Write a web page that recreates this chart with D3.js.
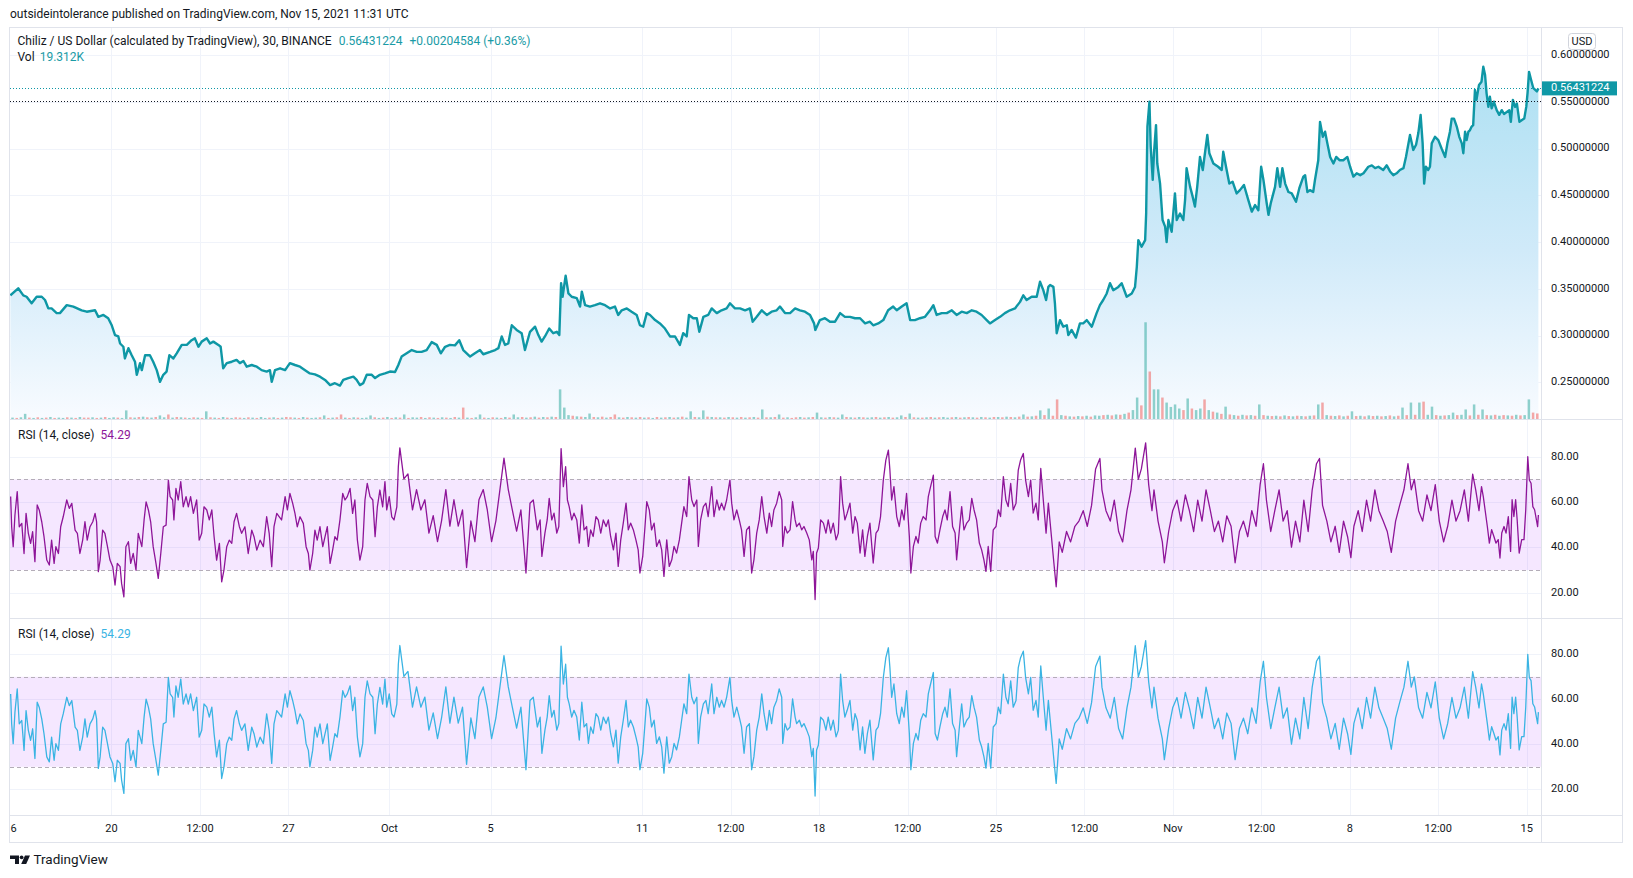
<!DOCTYPE html>
<html><head><meta charset="utf-8">
<script src="https://cdn.jsdelivr.net/npm/d3@7"></script>
<style>
html,body{margin:0;padding:0;background:#fff;}
svg{display:block;font-family:Roboto,"Noto Sans",sans-serif;}
</style></head><body>
<svg id="chart" width="1633" height="878"></svg>
<script>
// ---------- DATA ----------
// price: [days since 2021-09-16 00:00 UTC, close]
const priceData = [
[0,0.343],[0.31,0.3505],[0.51,0.343],[0.64,0.3415],[0.84,0.3345],[1.04,0.3415],[1.24,0.3415],[1.37,0.338],[1.50,0.329],[1.63,0.329],[1.83,0.324],[1.96,0.324],[2.23,0.3325],[2.49,0.331],[2.82,0.327],[3.02,0.3255],[3.35,0.327],[3.48,0.320],[3.68,0.322],[3.87,0.3185],[4.01,0.311],[4.14,0.3005],[4.27,0.299],[4.34,0.2915],[4.47,0.288],[4.53,0.2755],[4.67,0.2865],[4.80,0.279],[4.93,0.272],[5.00,0.258],[5.13,0.2705],[5.20,0.263],[5.33,0.279],[5.52,0.279],[5.65,0.272],[5.79,0.263],[5.92,0.2505],[6.05,0.258],[6.18,0.2615],[6.29,0.279],[6.45,0.2755],[6.58,0.281],[6.78,0.290],[6.98,0.290],[7.17,0.295],[7.30,0.297],[7.44,0.288],[7.57,0.2935],[7.77,0.297],[7.90,0.2915],[8.03,0.2935],[8.23,0.290],[8.32,0.288],[8.42,0.265],[8.56,0.2705],[8.76,0.272],[8.95,0.274],[9.08,0.2705],[9.22,0.2728],[9.35,0.2667],[9.55,0.2685],[9.75,0.2667],[9.94,0.263],[10.14,0.2615],[10.27,0.263],[10.34,0.2505],[10.47,0.263],[10.67,0.265],[10.87,0.263],[11.06,0.2705],[11.26,0.2685],[11.46,0.2667],[11.66,0.263],[11.85,0.2595],[12.05,0.2585],[12.25,0.256],[12.45,0.2525],[12.65,0.247],[12.84,0.249],[13.04,0.2465],[13.17,0.2525],[13.37,0.2545],[13.57,0.256],[13.70,0.2525],[13.83,0.247],[13.96,0.249],[14.10,0.258],[14.30,0.258],[14.43,0.2545],[14.62,0.258],[14.82,0.2595],[15.02,0.2615],[15.22,0.261],[15.35,0.2685],[15.48,0.2775],[15.68,0.281],[15.88,0.2845],[16.08,0.2825],[16.27,0.2825],[16.47,0.2845],[16.67,0.293],[16.87,0.290],[17.03,0.281],[17.20,0.288],[17.39,0.290],[17.59,0.2895],[17.76,0.295],[17.92,0.2845],[18.19,0.2775],[18.38,0.281],[18.58,0.2845],[18.71,0.280],[18.98,0.2825],[19.18,0.2845],[19.31,0.2865],[19.44,0.299],[19.57,0.290],[19.70,0.2915],[19.84,0.311],[20.03,0.306],[20.23,0.3025],[20.36,0.2845],[20.56,0.304],
[20.76,0.3095],[20.89,0.3005],[21.02,0.2935],[21.15,0.299],[21.32,0.3075],[21.48,0.3025],[21.62,0.304],[21.72,0.3005],[21.79,0.356],[21.85,0.3415],[21.97,0.364],[22.08,0.345],[22.21,0.3415],[22.41,0.340],[22.54,0.331],[22.61,0.347],[22.74,0.3325],[22.93,0.331],[23.13,0.3325],[23.33,0.3345],[23.53,0.3325],[23.73,0.329],[23.92,0.331],[24.05,0.322],[24.19,0.327],[24.39,0.329],[24.58,0.3255],[24.78,0.322],[24.91,0.311],[25.04,0.3095],[25.18,0.324],[25.31,0.322],[25.51,0.3165],[25.70,0.313],[25.90,0.3075],[26.10,0.299],[26.30,0.299],[26.49,0.290],[26.62,0.3025],[26.76,0.299],[26.85,0.322],[27.02,0.3185],[27.16,0.3185],[27.26,0.304],[27.42,0.320],[27.61,0.322],[27.75,0.329],[27.95,0.324],[28.14,0.327],[28.34,0.329],[28.47,0.3345],[28.67,0.329],[28.87,0.329],[29.07,0.327],[29.26,0.329],[29.37,0.3148],[29.53,0.320],[29.73,0.327],[29.93,0.322],[30.12,0.3255],[30.32,0.327],[30.45,0.331],[30.65,0.324],[30.85,0.324],[31.05,0.329],[31.24,0.327],[31.44,0.3255],[31.64,0.322],[31.80,0.313],[31.85,0.306],[32.03,0.3165],[32.23,0.3185],[32.43,0.3148],[32.63,0.3148],[32.83,0.324],[33.02,0.320],[33.22,0.320],[33.42,0.3185],[33.62,0.3185],[33.82,0.313],[34.01,0.3148],[34.14,0.311],[34.34,0.313],[34.54,0.3165],[34.73,0.327],[34.93,0.331],[35.07,0.327],[35.27,0.331],[35.46,0.3345],[35.60,0.3165],[35.79,0.3165],[35.99,0.3185],[36.19,0.320],[36.39,0.327],[36.52,0.3325],[36.65,0.322],[36.85,0.324],[37.05,0.324],[37.25,0.327],[37.44,0.322],[37.64,0.3255],[37.84,0.324],[38.04,0.327],[38.23,0.3255],[38.43,0.322],[38.63,0.3165],[38.76,0.313],[38.96,0.3165],[39.16,0.320],[39.35,0.324],[39.55,0.327],[39.75,0.329],[39.95,0.336],[40.08,0.343],[40.21,0.338],[40.41,0.3415],[40.61,0.3415],[40.74,0.3575],[40.87,0.3485],[40.98,0.338],[41.07,0.352],
[41.14,0.354],[41.27,0.352],[41.33,0.3345],[41.40,0.3025],[41.53,0.3165],[41.66,0.3095],[41.80,0.311],[41.86,0.3005],[41.99,0.306],[42.16,0.2978],[42.32,0.313],[42.45,0.313],[42.59,0.3165],[42.79,0.3095],[42.98,0.324],[43.11,0.3325],[43.24,0.338],[43.38,0.345],[43.51,0.356],[43.64,0.3485],[43.84,0.352],[43.97,0.356],[44.17,0.3415],[44.37,0.345],[44.50,0.352],[44.57,0.3735],[44.63,0.402],[44.76,0.395],[44.90,0.402],[44.94,0.4305],[44.99,0.5235],[45.07,0.550],[45.12,0.502],[45.20,0.4665],[45.25,0.495],[45.33,0.525],[45.38,0.484],[45.49,0.4625],[45.59,0.4235],[45.69,0.4165],[45.75,0.400],[45.82,0.4235],[45.95,0.411],[46.08,0.452],[46.15,0.4235],[46.28,0.4305],[46.41,0.4235],[46.48,0.445],[46.54,0.479],[46.68,0.459],[46.78,0.4485],[46.87,0.438],[46.96,0.459],[47.07,0.491],[47.18,0.477],[47.31,0.504],[47.36,0.5145],[47.44,0.495],[47.60,0.484],[47.79,0.4805],[47.93,0.477],[47.99,0.4965],[48.10,0.4805],[48.23,0.4625],[48.36,0.4645],[48.52,0.452],[48.65,0.4555],[48.81,0.461],[48.98,0.445],[49.12,0.4325],[49.25,0.4395],[49.38,0.434],[49.49,0.4805],[49.58,0.4665],[49.71,0.4415],[49.78,0.429],[49.87,0.4415],[50.04,0.459],[50.13,0.479],[50.24,0.459],[50.33,0.479],[50.44,0.4625],[50.57,0.4535],[50.70,0.452],[50.87,0.443],[51.00,0.4575],[51.16,0.470],[51.23,0.4715],[51.32,0.4535],[51.42,0.4555],[51.55,0.4535],[51.62,0.4665],[51.75,0.4875],[51.82,0.5285],[51.93,0.5125],[52.02,0.518],[52.11,0.5055],[52.22,0.491],[52.35,0.484],[52.46,0.491],[52.59,0.4875],[52.74,0.4875],[52.90,0.491],[53.01,0.4805],[53.14,0.470],[53.27,0.4735],[53.41,0.4715],[53.54,0.4735],[53.73,0.4805],[53.87,0.482],[54.00,0.479],[54.13,0.4805],[54.32,0.477],[54.46,0.482],[54.59,0.4755],[54.72,0.4715],[54.85,0.4735],[54.98,0.477],[55.12,0.479],[55.22,0.491],[55.38,0.5145],[55.51,0.4985],[55.62,0.504],[55.71,0.5165],[55.80,0.536],[55.88,0.5055],[55.94,0.4625],[56.01,0.4805],[56.10,0.477],[56.17,0.4805],[56.24,0.5055],[56.37,0.5125],[56.50,0.509],[56.63,0.500],[56.77,0.491],[56.86,0.5055],[56.96,0.518],[57.03,0.532],[57.12,0.532],[57.23,0.5235],[57.33,0.5125],[57.43,0.5055],[57.49,0.495],[57.56,0.518],[57.62,0.509],[57.69,0.518],[57.75,0.5195],[57.82,0.5235],[57.88,0.525],[57.95,0.5625],[58.01,0.552],[58.11,0.568],[58.21,0.5715],[58.28,0.5875],[58.35,0.5785],[58.41,0.559],[58.48,0.5445],[58.54,0.5555],[58.61,0.543],[58.70,0.550],[58.81,0.541],[58.91,0.536],[59.01,0.541],[59.10,0.537],[59.21,0.539],[59.31,0.541],[59.37,0.5285],[59.45,0.552],[59.54,0.5445],[59.61,0.548],[59.71,0.5285],[59.81,0.5305],[59.90,0.532],[59.98,0.5445],[60.03,0.559],[60.09,0.582],[60.17,0.5735],[60.26,0.5645],[60.40,0.561],[60.46,0.56431224]
];

// volume (K), one value per 4-hour block starting 2021-09-16 00:00 UTC; negative = down block (red)
const volumeData = [
6,-5,7,18,-6,5, -7,5,-6,8,-5,6, 5,-7,6,-5,8,-6, -6,7,-5,6,-8,5,
7,-6,5,29,-7,6, -8,9,-7,6,-8,13, 7,-16,6,-8,7,-6, 5,-7,6,-5,26,-7,
6,-5,8,-6,5,-7, -6,5,-7,6,-5,8, 5,-6,7,-5,6,-8, -7,6,-5,8,-6,5,
6,-7,13,-5,6,-7, -16,6,-5,7,-6,5, 6,13,-7,5,-6,8, -5,7,-6,16,-5,7,
6,-8,5,-7,6,-5, 7,-6,5,-8,6,-38, 6,-5,7,16,-6,5, -7,6,-5,8,-6,16,
7,-8,6,-7,9,-6, 8,-7,9,-8,96,38, 14,-12,10,-9,8,19, -8,7,-9,6,-8,-16,
7,-6,8,-7,6,-8, 6,-7,5,-8,6,-7, 8,-6,7,-9,6,26, -8,7,29,-9,8,-7,
7,-6,8,-7,6,-8, 6,-7,8,-6,32,-7, 7,-8,16,-6,7,-5, -7,8,-6,7,-8,22,
7,-6,8,-7,6,16, -8,7,-6,8,-7,6, 7,-8,6,-7,8,-6, 7,13,-8,19,-7,6,
-6,7,-8,6,-7,8, 6,-7,8,-6,7,-8, 7,-6,8,-7,6,-8, 8,-7,9,-8,7,-9,
16,-9,10,-12,29,-14, 35,-12,-64,14,-12,10, -9,11,-10,12,-9,13, 12,-14,15,-13,16,-15,
18,-22,30,70,-45,310, -153,96,96,-70,54,40, 48,35,-30,67,-35,30, 35,-64,30,-25,22,-18,
41,-16,14,-12,15,-13, 14,-12,48,-14,12,-11, 12,-10,13,-11,10,-12, 11,-10,12,-13,48,-54,
14,-12,11,-13,10,-12, 26,-11,12,-10,13,-11, 12,-10,11,-13,10,-12, 38,-14,54,-15,54,-57,
15,41,-14,12,-13,14, 22,-14,15,32,-13,48, -15,32,-14,13,-15,12, -14,13,-12,15,-13,14,
64,-22,-19.312
];

// RSI(14): [days since 2021-09-16 00:00 UTC, value]
const rsiData = [
[0.01,62.4],[0.05,49.1],[0.11,40.3],[0.18,54.3],[0.27,64.6],[0.35,49.1],[0.45,50.6],[0.54,37.3],[0.62,55.0],[0.71,46.2],[0.80,41.8],[0.88,46.9],[0.97,33.7],[1.06,58.7],[1.14,56.5],[1.24,51.3],[1.33,44.7],[1.44,34.4],[1.54,32.2],[1.63,43.2],[1.73,32.9],[1.80,40.3],[1.90,37.3],[1.99,49.1],[2.09,53.5],[2.23,60.9],[2.33,57.2],[2.43,59.4],[2.56,47.6],[2.65,46.2],[2.75,37.3],[2.86,43.2],[2.95,51.3],[3.04,43.2],[3.15,49.1],[3.26,51.3],[3.35,55.0],[3.41,51.3],[3.48,29.3],[3.55,34.4],[3.65,47.6],[3.74,46.2],[3.83,41.0],[3.94,34.4],[4.05,31.5],[4.14,23.4],[4.23,32.9],[4.34,31.5],[4.40,24.1],[4.49,18.2],[4.57,40.3],[4.67,42.5],[4.76,32.9],[4.86,37.3],[4.97,30.0],[5.06,46.2],[5.20,40.3],[5.29,52.1],[5.37,60.1],[5.46,56.5],[5.55,51.3],[5.65,40.3],[5.76,32.9],[5.85,26.3],[5.95,37.3],[6.05,49.1],[6.16,49.8],[6.25,69.7],[6.32,62.4],[6.42,60.9],[6.47,52.1],[6.55,66.0],[6.64,60.9],[6.74,69.0],[6.84,57.9],[6.95,62.4],[7.04,57.9],[7.13,62.4],[7.24,55.0],[7.37,60.9],[7.47,43.2],[7.57,46.2],[7.66,57.9],[7.77,56.5],[7.87,52.1],[7.97,56.5],[8.06,44.7],[8.16,34.4],[8.27,41.8],[8.36,24.8],[8.45,30.0],[8.56,40.3],[8.66,43.2],[8.76,41.8],[8.85,51.3],[8.95,55.0],[9.06,49.1],[9.15,46.2],[9.28,49.1],[9.41,37.3],[9.55,47.6],[9.64,44.7],[9.75,38.8],[9.88,43.2],[10.01,40.3],[10.14,53.5],[10.24,46.2],[10.34,31.5],[10.43,49.1],[10.54,55.0],[10.64,53.5],[10.73,52.1],[10.87,62.4],[10.96,56.5],[11.06,63.8],[11.17,59.4],[11.26,55.0],[11.35,49.1],[11.46,53.5],[11.59,50.6],[11.70,40.3],[11.79,37.3],[11.85,30.0],[11.96,37.3],[12.05,47.6],[12.14,43.2],[12.25,49.1],[12.36,40.3],[12.45,44.7],[12.54,49.1],[12.65,32.9],[12.75,38.8],[12.84,44.7],[12.93,43.2],[13.04,52.1],[13.15,63.8],[13.24,60.9],[13.33,62.4],[13.44,66.0],[13.54,55.0],[13.63,60.9],[13.73,43.2],[13.83,34.4],[13.94,40.3],[14.03,60.9],[14.12,68.2],[14.23,62.4],[14.34,60.9],[14.43,44.7],[14.52,57.9],[14.62,65.3],[14.73,57.9],[14.82,69.0],[14.89,56.5],[14.99,62.4],[15.09,53.5],[15.18,52.1],[15.29,57.9],[15.35,75.6],
[15.41,83.9],[15.57,70.2],[15.73,72.4],[15.91,56.5],[16.07,65.5],[16.24,56.5],[16.40,61],[16.56,46.3],[16.73,54],[16.90,42.5],[17.06,51.7],[17.23,65.5],[17.39,49.4],[17.55,61],[17.72,49.4],[17.89,56.5],[18.05,31.1],[18.22,51.7],[18.38,42.5],[18.54,61],[18.71,65.5],[18.87,56.5],[19.04,42.5],[19.21,51.7],[19.37,65.5],[19.53,79.4],[19.70,65.5],[19.86,56.5],[20.03,47.2],[20.20,56.5],[20.40,28.7],
[20.56,59.5],[20.69,60.9],[20.76,55.1],[20.85,47.7],[20.96,52.1],[21.03,36.0],[21.15,46.3],[21.24,52.1],[21.32,61.6],[21.42,52.1],[21.51,55.1],[21.62,46.3],[21.70,49.2],[21.79,83.6],[21.88,66.8],[21.97,75.6],[22.04,60.9],[22.11,58.0],[22.21,52.1],[22.30,55.1],[22.41,52.1],[22.51,41.9],[22.61,58.7],[22.70,47.7],[22.80,49.2],[22.87,40.4],[22.96,47.7],[23.06,44.8],[23.17,53.6],[23.26,52.1],[23.36,46.3],[23.46,52.1],[23.57,49.2],[23.66,52.1],[23.75,44.8],[23.86,38.9],[23.96,46.3],[24.05,31.6],[24.15,43.3],[24.25,50.7],[24.36,59.5],[24.45,47.7],[24.54,50.7],[24.65,47.7],[24.75,43.3],[24.84,38.9],[24.91,28.7],[25.02,36.0],[25.11,49.2],[25.18,60.2],[25.28,56.5],[25.37,47.7],[25.47,50.7],[25.57,40.4],[25.68,43.3],[25.77,38.9],[25.86,27.2],[25.97,43.3],[26.07,31.6],[26.17,34.5],[26.26,40.4],[26.36,37.5],[26.47,43.3],[26.56,50.7],[26.65,58.0],[26.76,53.6],[26.85,71.2],[26.96,60.9],[27.05,58.0],[27.16,60.9],[27.22,40.4],[27.31,52.1],[27.42,58.0],[27.52,59.5],[27.61,53.6],[27.75,66.8],[27.84,53.6],[27.95,60.9],[28.05,56.5],[28.14,59.5],[28.24,56.5],[28.34,60.9],[28.47,69.7],[28.54,59.5],[28.63,52.1],[28.74,56.5],[28.84,52.1],[28.93,47.7],[29.03,36.0],[29.13,47.7],[29.24,49.2],[29.33,28.7],[29.42,34.5],[29.53,46.3],[29.63,52.1],[29.73,62.4],[29.82,53.6],[29.93,46.3],[30.03,55.1],[30.12,49.2],[30.21,56.5],[30.32,59.5],[30.42,64.6],[30.52,60.9],[30.56,40.4],[30.65,49.2],[30.74,46.3],[30.85,47.7],[30.95,60.2],[31.05,52.1],[31.11,49.2],[31.22,50.7],[31.31,47.7],[31.40,49.2],[31.51,46.3],[31.61,43.3],[31.71,34.5],[31.77,38.2],[31.84,17.0],[31.90,37.5],[31.97,39.7],[32.06,52.1],[32.17,50.7],[32.27,46.3],[32.36,52.1],[32.46,46.3],[32.56,50.7],[32.67,43.3],[32.76,46.3],[32.85,71.2],[32.93,59.5],[33.02,52.1],[33.11,55.1],[33.22,59.5],[33.33,46.3],[33.42,53.6],[33.51,50.7],[33.62,37.5],[33.72,47.7],[33.81,36.0],[33.91,44.8],[34.01,50.7],[34.14,33.1],[34.25,46.3],[34.34,47.7],[34.43,53.6],[34.54,69.7],[34.64,78.5],[34.74,82.9],[34.80,74.1],[34.87,60.9],[34.96,66.8],[35.07,53.6],[35.17,49.2],[35.27,56.5],[35.36,52.1],[35.46,63.8],[35.57,44.8],[35.63,28.7],[35.73,40.4],[35.83,44.8],[35.92,41.9],[36.02,50.7],[36.12,53.6],[36.23,52.1],[36.32,62.4],[36.41,66.8],[36.52,71.9],[36.59,44.8],[36.68,41.9],[36.78,47.7],[36.89,53.6],[36.98,56.5],[37.07,52.1],[37.18,64.6],[37.28,49.2],[37.38,46.3],[37.44,34.5],[37.55,47.7],[37.64,58.0],[37.73,47.7],[37.84,50.7],[37.94,52.1],[38.04,61.6],[38.13,56.5],[38.23,52.1],[38.34,41.9],[38.43,38.9],[38.52,34.5],[38.60,29.4],[38.69,40.4],[38.79,29.4],[38.89,47.7],[39.00,49.2],[39.09,56.5],[39.18,53.6],[39.29,71.2],[39.39,60.9],[39.48,58.0],[39.58,68.2],[39.68,56.5],[39.79,59.5],[39.88,74.1],[39.97,78.5],[40.08,81.4],[40.17,69.7],[40.28,62.4],[40.37,69.7],[40.47,55.1],[40.58,59.5],[40.67,52.1],[40.77,74.8],[40.87,60.9],[40.98,46.3],[41.07,59.5],
[41.29,33],[41.38,22.6],[41.50,42.4],[41.62,37.8],[41.79,47],[41.95,42.4],[42.12,49.3],[42.28,51.6],[42.45,56.2],[42.61,49.3],[42.78,58.5],[42.94,74.6],[43.11,79.2],[43.19,65.4],[43.35,56.2],[43.52,51.6],[43.68,60.8],[43.85,47],[44.01,42.4],[44.18,56.2],[44.34,65.4],[44.51,83.8],[44.63,70],[44.75,74.6],[44.92,86.1],[45.04,67.7],[45.17,56.2],[45.25,65.4],[45.41,51.6],[45.58,42.4],[45.66,33.2],[45.83,47],[45.99,56.2],[46.16,60.8],[46.32,51.6],[46.49,63.1],[46.65,56.2],[46.82,47],[46.98,60.8],[47.15,51.6],[47.31,65.4],[47.48,56.2],[47.64,47],[47.80,51.6],[47.97,42.4],[48.13,53.9],[48.30,49.3],[48.46,33.2],[48.63,47],[48.79,51.6],[48.96,44.7],[49.12,56.2],[49.29,49.3],[49.45,67.7],[49.58,76.9],[49.70,60.8],[49.87,47],[50.03,56.2],[50.20,65.4],[50.36,51.6],[50.52,56.2],[50.69,40.1],[50.85,51.6],[51.02,42.4],[51.18,60.8],[51.35,47],[51.51,65.4],[51.68,76.9],[51.80,79.2],[51.92,58.5],[52.09,51.6],[52.25,42.4],[52.42,49.3],[52.58,37.8],[52.75,51.6],[52.91,44.7],[53.04,35.5],[53.16,49.3],[53.33,56.2],[53.49,47],[53.66,60.8],[53.82,51.6],[53.99,65.4],[54.15,56.2],[54.32,51.6],[54.48,47],[54.64,37.8],[54.81,51.6],[54.97,58.5],[55.14,65.4],[55.30,76.9],[55.43,65.4],[55.55,70],[55.72,56.2],[55.88,51.6],[56.05,63.1],[56.21,56.2],[56.38,67.7],[56.54,51.6],[56.71,42.4],[56.87,49.3],[57.04,60.8],[57.20,51.6],[57.36,56.2],[57.53,65.4],[57.69,51.6],[57.86,72.3],[57.98,65.4],[58.11,56.2],
[58.21,66.8],[58.28,62.4],[58.35,56.6],[58.44,49.2],[58.52,41.9],[58.61,47.8],[58.70,44.8],[58.78,41.9],[58.87,43.4],[58.94,35.3],[59.01,46.3],[59.10,49.2],[59.18,46.3],[59.27,53.6],[59.36,38.2],[59.42,61.0],[59.49,53.6],[59.56,61.0],[59.62,52.2],[59.70,37.5],[59.80,43.4],[59.89,43.4],[59.96,56.6],[60.04,80.0],[60.10,69.7],[60.17,68.3],[60.24,58.0],[60.31,56.6],[60.38,52.2],[60.43,49.2],[60.46,54.29]
];

const priceTicks = [0.25,0.30,0.35,0.40,0.45,0.50,0.55,0.60];
const rsiTicks = [20,40,60,80];
const rsiBand = [30,70];
const timeTicks = [
["2021-09-16T00:00:00Z","16"],["2021-09-20T00:00:00Z","20"],["2021-09-23T12:00:00Z","12:00"],["2021-09-27T00:00:00Z","27"],
["2021-10-01T00:00:00Z","Oct"],["2021-10-05T00:00:00Z","5"],["2021-10-11T00:00:00Z","11"],["2021-10-14T12:00:00Z","12:00"],
["2021-10-18T00:00:00Z","18"],["2021-10-21T12:00:00Z","12:00"],["2021-10-25T00:00:00Z","25"],["2021-10-28T12:00:00Z","12:00"],
["2021-11-01T00:00:00Z","Nov"],["2021-11-04T12:00:00Z","12:00"],["2021-11-08T00:00:00Z","8"],["2021-11-11T12:00:00Z","12:00"],
["2021-11-15T00:00:00Z","15"]
];
const lastPrice = 0.56431224;
const lastChange = "+0.00204584 (+0.36%)";
const lastVolume = "19.312K";
const lastRsi = "54.29";
const hLineLevel = 0.5505;

// ---------- LAYOUT ----------
const svg = d3.select("#chart");
const L = 10, R = 1541.5, AX = 1622.5, TOP = 27.5, BOT = 842.5;
const P1 = [TOP, 419.5], P2 = [419.5, 618.5], P3 = [618.5, 815.5];
const start = Date.UTC(2021, 8, 16);
const DAY = 864e5;
const toDate = d => new Date(start + d * DAY);

const x = d3.scaleUtc().domain([toDate(0), toDate(60.5)]).range([10.4, 1539.4]);
const yP = d3.scaleLinear().domain([0.25, 0.60]).range([382.3, 55]);
const yV = d3.scaleLinear().domain([0, 1250]).range([P1[1], P1[0]]);
const yR1 = d3.scaleLinear().domain([20, 80]).range([592.7, 456.7]);
const yR2 = d3.scaleLinear().domain([20, 80]).range([789.3, 654.3]);

const GRID = "#f0f3fa", BORDER = "#e0e3eb", TXT = "#131722";
const TEAL = "#0e97a5", PURPLE = "#8e1599", CYAN = "#3ab4e3";

const defs = svg.append("defs");
function clip(id, y0, y1) {
  defs.append("clipPath").attr("id", id).append("rect")
    .attr("x", L).attr("y", y0).attr("width", R - L).attr("height", y1 - y0);
}
clip("c1", P1[0], P1[1]); clip("c2", P2[0], P2[1]); clip("c3", P3[0], P3[1]);
clip("ct", P3[1], BOT);
const grad = defs.append("linearGradient").attr("id", "areaGrad")
  .attr("gradientUnits", "userSpaceOnUse").attr("x1", 0).attr("x2", 0).attr("y1", 80).attr("y2", P1[1]);
grad.append("stop").attr("offset", 0).attr("stop-color", "#b0e1f3");
grad.append("stop").attr("offset", 0.5).attr("stop-color", "#d0eaf9");
grad.append("stop").attr("offset", 1).attr("stop-color", "#f8fbff");

// header
svg.append("text").attr("x", 10).attr("y", 14.5).attr("dominant-baseline", "middle")
  .attr("font-size", 12).attr("fill", TXT)
  .text("outsideintolerance published on TradingView.com, Nov 15, 2021 11:31 UTC");

// horizontal grids
const g = svg.append("g");
g.selectAll(".gp").data(priceTicks).join("line").attr("x1", L).attr("x2", R)
  .attr("y1", d => Math.round(yP(d)) + 0.5).attr("y2", d => Math.round(yP(d)) + 0.5).attr("stroke", GRID);
[yR1, yR2].forEach(s => {
  g.append("g").selectAll("line").data(rsiTicks).join("line").attr("x1", L).attr("x2", R)
    .attr("y1", d => Math.round(s(d)) + 0.5).attr("y2", d => Math.round(s(d)) + 0.5).attr("stroke", GRID);
});
// vertical grids
g.selectAll(".gv").data(timeTicks).join("line")
  .attr("x1", d => Math.round(x(new Date(d[0]))) + 0.5).attr("x2", d => Math.round(x(new Date(d[0]))) + 0.5)
  .attr("y1", TOP).attr("y2", P3[1]).attr("stroke", GRID)
  .filter(d => x(new Date(d[0])) < L + 1).remove();

// ---------- price pane ----------
const pg = svg.append("g").attr("clip-path", "url(#c1)");
pg.append("path").datum(priceData)
  .attr("d", d3.area().x(d => x(toDate(d[0]))).y0(P1[1]).y1(d => yP(d[1])))
  .attr("fill", "url(#areaGrad)");
pg.append("g").selectAll("rect").data(volumeData).join("rect")
  .attr("x", (d, i) => x(toDate(i / 6 + 1 / 12)) - 1.25).attr("width", 2.5)
  .attr("y", d => yV(Math.abs(d))).attr("height", d => yV(0) - yV(Math.abs(d)))
  .attr("fill", d => d >= 0 ? "rgba(38,166,154,0.5)" : "rgba(239,83,80,0.5)");
pg.append("path").datum(priceData)
  .attr("d", d3.line().x(d => x(toDate(d[0]))).y(d => yP(d[1])))
  .attr("fill", "none").attr("stroke", TEAL).attr("stroke-width", 2.4).attr("stroke-linejoin", "round");
pg.append("line").attr("x1", L).attr("x2", R).attr("y1", Math.round(yP(hLineLevel)) + 0.5).attr("y2", Math.round(yP(hLineLevel)) + 0.5)
  .attr("stroke", "#131722").attr("stroke-dasharray", "1,2");
pg.append("line").attr("x1", L).attr("x2", R).attr("y1", Math.round(yP(lastPrice)) + 0.5).attr("y2", Math.round(yP(lastPrice)) + 0.5)
  .attr("stroke", TEAL).attr("stroke-dasharray", "1,2");

// legend
const lg = svg.append("text").attr("x", 17.5).attr("y", 41.5).attr("dominant-baseline", "middle").attr("font-size", 12);
lg.append("tspan").attr("fill", TXT).text("Chiliz / US Dollar (calculated by TradingView), 30, BINANCE");
lg.append("tspan").attr("dx", 7).attr("fill", "#1a9ba6").text(d3.format(".8f")(lastPrice));
lg.append("tspan").attr("dx", 7).attr("fill", "#1a9ba6").text(lastChange);
const vl = svg.append("text").attr("x", 17.5).attr("y", 58).attr("dominant-baseline", "middle").attr("font-size", 12);
vl.append("tspan").attr("fill", TXT).text("Vol");
vl.append("tspan").attr("dx", 5).attr("fill", "#1a9ba6").text(lastVolume);

// ---------- RSI panes ----------
function rsiPane(s, clipId, pane, color) {
  const rg = svg.append("g").attr("clip-path", `url(#${clipId})`);
  rg.append("rect").attr("x", L).attr("width", R - L)
    .attr("y", s(rsiBand[1])).attr("height", s(rsiBand[0]) - s(rsiBand[1]))
    .attr("fill", "rgba(153,21,255,0.1)");
  rg.selectAll(".band").data(rsiBand).join("line").attr("x1", L).attr("x2", R)
    .attr("y1", d => Math.round(s(d)) + 0.5).attr("y2", d => Math.round(s(d)) + 0.5)
    .attr("stroke", "#b4adb8").attr("stroke-dasharray", "4,3");
  rg.append("path").datum(rsiData)
    .attr("d", d3.line().x(d => x(toDate(d[0]))).y(d => s(d[1])))
    .attr("fill", "none").attr("stroke", color).attr("stroke-width", 1.3).attr("stroke-linejoin", "round");
  const t = svg.append("text").attr("x", 18).attr("y", pane[0] + 16).attr("dominant-baseline", "middle").attr("font-size", 12);
  t.append("tspan").attr("fill", TXT).text("RSI (14, close)");
  t.append("tspan").attr("dx", 6).attr("fill", color).text(lastRsi);
  svg.append("g").selectAll("text").data(rsiTicks).join("text")
    .attr("x", 1551).attr("y", d => s(d)).attr("dominant-baseline", "middle")
    .attr("font-size", 11).attr("fill", TXT).text(d => d3.format(".2f")(d));
}
rsiPane(yR1, "c2", P2, PURPLE);
rsiPane(yR2, "c3", P3, CYAN);

// ---------- price axis ----------
svg.append("g").selectAll("text").data(priceTicks).join("text")
  .attr("x", 1551).attr("y", d => yP(d)).attr("dominant-baseline", "middle")
  .attr("font-size", 11).attr("fill", TXT).text(d => d3.format(".8f")(d));
svg.append("rect").attr("x", R).attr("y", yP(lastPrice) - 7).attr("width", 1617 - R).attr("height", 14)
  .attr("fill", "#0f98a6");
svg.append("text").attr("x", 1551).attr("y", yP(lastPrice)).attr("dominant-baseline", "middle")
  .attr("font-size", 11).attr("fill", "#fff").text(d3.format(".8f")(lastPrice));
svg.append("rect").attr("x", 1568.5).attr("y", 33.5).attr("width", 27).attr("height", 16).attr("rx", 3)
  .attr("fill", "#fff").attr("stroke", "#d1d4dc");
svg.append("text").attr("x", 1582).attr("y", 41.8).attr("text-anchor", "middle").attr("dominant-baseline", "middle")
  .attr("font-size", 11).attr("fill", TXT).text("USD");

// ---------- time axis ----------
svg.append("g").attr("clip-path", "url(#ct)").selectAll("text").data(timeTicks).join("text")
  .attr("x", d => x(new Date(d[0]))).attr("y", 829).attr("text-anchor", "middle").attr("dominant-baseline", "middle")
  .attr("font-size", 11).attr("fill", TXT).text(d => d[1]);

// ---------- frame ----------
const fr = svg.append("g").attr("fill", "none").attr("stroke", BORDER);
fr.append("rect").attr("x", 9.5).attr("y", TOP).attr("width", AX - 9.5).attr("height", BOT - TOP);
fr.append("line").attr("x1", R).attr("x2", R).attr("y1", TOP).attr("y2", BOT);
[P1[1], P2[1], P3[1]].forEach(yy => fr.append("line").attr("x1", 9.5).attr("x2", AX).attr("y1", yy).attr("y2", yy));

// ---------- logo ----------
const lo = svg.append("g").attr("fill", TXT);
lo.append("path").attr("d", "M10,855.5 H19 V864 H15 V859 H10 Z");
lo.append("circle").attr("cx", 21.6).attr("cy", 857.3).attr("r", 1.9);
lo.append("path").attr("d", "M25,855.5 H30 L26.2,864 H21.2 Z");
svg.append("text").attr("x", 33.5).attr("y", 860).attr("dominant-baseline", "middle")
  .attr("font-size", 13.5).attr("fill", TXT).text("TradingView");
</script>
</body></html>
